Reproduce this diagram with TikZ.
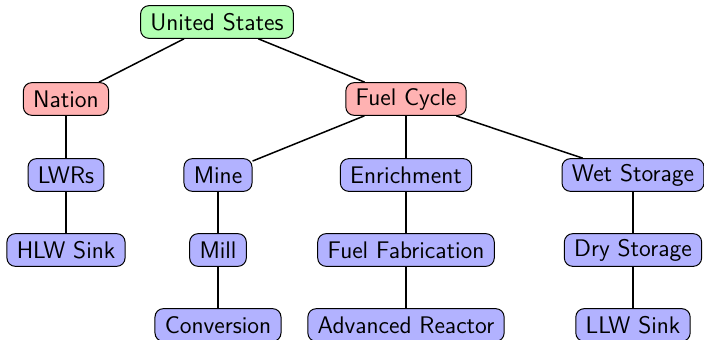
\documentclass[tikz,border=0pt]{standalone}
\usepackage{tikz}
\begin{document}
\begin{tikzpicture}[x=0.6pt,y=-0.6pt,
  box/.style={draw=black,line width=0.6pt,rounded corners=5pt,font=\sffamily\Large,
    minimum height=19.6pt,inner xsep=5.9pt,inner ysep=1pt},
  top/.style={box,fill=green!30},
  mid/.style={box,fill=red!30},
  leaf/.style={box,fill=blue!30},
  link/.style={draw=black,line width=0.9pt}]
\useasboundingbox (0,0) rectangle (704,340);
\node[top] (us) at (217,22) {United States};
\node[mid] (nation) at (66,99) {Nation};
\node[mid] (fc) at (406,99) {Fuel Cycle};
\node[leaf] (lwr) at (66,175) {LWRs};
\node[leaf] (hlw) at (66,250) {HLW Sink};
\node[leaf] (mine) at (218,175) {Mine};
\node[leaf] (mill) at (218,250) {Mill};
\node[leaf] (conv) at (218,325) {Conversion};
\node[leaf] (enr) at (406,175) {Enrichment};
\node[leaf] (fab) at (406,250) {Fuel Fabrication};
\node[leaf] (adv) at (406,325) {Advanced Reactor};
\node[leaf] (wet) at (633,175) {Wet Storage};
\node[leaf] (dry) at (633,250) {Dry Storage};
\node[leaf] (llw) at (633,325) {LLW Sink};
\path[link] (us) -- (nation);
\path[link] (us) -- (fc);
\path[link] (nation) -- (lwr);
\path[link] (lwr) -- (hlw);
\path[link] (fc) -- (mine);
\path[link] (fc) -- (enr);
\path[link] (fc) -- (wet);
\path[link] (mine) -- (mill);
\path[link] (mill) -- (conv);
\path[link] (enr) -- (fab);
\path[link] (fab) -- (adv);
\path[link] (wet) -- (dry);
\path[link] (dry) -- (llw);
\end{tikzpicture}
\end{document}
